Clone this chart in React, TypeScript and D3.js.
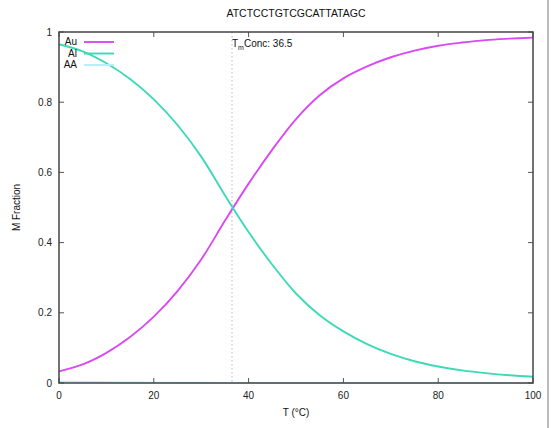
import React from "react";
import * as d3 from "d3";

const temps = [0, 5, 10, 15, 20, 25, 30, 35, 40, 45, 50, 55, 60, 65, 70, 75, 80, 85, 90, 95, 100];
const auValues = [0.033, 0.053, 0.086, 0.131, 0.189, 0.262, 0.352, 0.462, 0.568, 0.665, 0.752, 0.82, 0.868, 0.902, 0.928, 0.947, 0.961, 0.970, 0.977, 0.981, 0.984];
const alValues = [0.965, 0.945, 0.911, 0.866, 0.808, 0.735, 0.645, 0.535, 0.43, 0.337, 0.255, 0.193, 0.147, 0.111, 0.083, 0.062, 0.047, 0.036, 0.028, 0.022, 0.018];
const aaValues = [0.004, 0.003, 0.002, 0.0015, 0.001, 0.0008, 0.0006, 0.0004, 0.0003, 0.0002, 0.0001, 0, 0, 0, 0, 0, 0, 0, 0, 0, 0];
const xTicks = [0, 20, 40, 60, 80, 100];
const yTicks = [0, 0.2, 0.4, 0.6, 0.8, 1];
const seriesNames = ["Au", "Al", "AA"];
const seriesColors = ["#d94af2", "#3ed9b6", "#b4f0fa"];
const title = "ATCTCCTGTCGCATTATAGC";
const tm = 36.5;

export default function App() {
  const W = 555, H = 428;
  const left = 59, right = 533, top = 32, bottom = 383;
  const x = d3.scaleLinear().domain([0, 100]).range([left, right]);
  const y = d3.scaleLinear().domain([0, 1]).range([bottom, top]);
  const line = d3.line<number>().x((_, i) => x(temps[i])).y((d) => y(d)).curve(d3.curveCatmullRom.alpha(0.5));
  const series = [auValues, alValues, aaValues];
  const font = "'Liberation Sans', Arial, sans-serif";
  const tickLen = 5;
  return (
    <svg width={W} height={H} style={{ position: "absolute", left: 0, top: 0, background: "#fff" }} fontFamily={font}>
      <rect x={0} y={0} width={W} height={H} fill="#fff" />
      <text x={296} y={17} fontSize={10.5} textAnchor="middle" fill="#111">{title}</text>
      <line x1={x(tm)} x2={x(tm)} y1={top} y2={bottom} stroke="#bbb" strokeWidth={1} strokeDasharray="1.5,2.5" />
      {series.map((vals, k) => (
        <path key={k} d={line(vals) || ""} fill="none" stroke={seriesColors[k]} strokeWidth={1.9} />
      ))}
      {xTicks.map((t) => (
        <g key={"x" + t}>
          <line x1={x(t)} x2={x(t)} y1={bottom} y2={bottom - tickLen} stroke="#555" />
          <line x1={x(t)} x2={x(t)} y1={top} y2={top + tickLen} stroke="#555" />
          <text x={x(t)} y={399} fontSize={10} textAnchor="middle" fill="#222">{t}</text>
        </g>
      ))}
      {yTicks.map((t) => (
        <g key={"y" + t}>
          <line x1={left} x2={left + tickLen} y1={y(t)} y2={y(t)} stroke="#555" />
          <line x1={right} x2={right - tickLen} y1={y(t)} y2={y(t)} stroke="#555" />
          <text x={52} y={y(t) + 3.5} fontSize={10} textAnchor="end" fill="#222">{String(t)}</text>
        </g>
      ))}
      <rect x={left} y={top} width={right - left} height={bottom - top} fill="none" stroke="#444" strokeWidth={1.5} />
      {seriesNames.map((n, k) => (
        <g key={n}>
          <text x={77} y={45 + k * 11.5} fontSize={10} textAnchor="end" fill="#111">{n}</text>
          <line x1={84} x2={114} y1={42 + k * 11.5} y2={42 + k * 11.5} stroke={seriesColors[k]} strokeWidth={1.9} />
        </g>
      ))}
      <text x={232} y={47} fontSize={10} fill="#111">
        T<tspan fontSize={7} dy={3}>m</tspan><tspan dy={-3}>Conc: {tm}</tspan>
      </text>
      <text x={296} y={416} fontSize={10} textAnchor="middle" fill="#111">T (°C)</text>
      <text transform={`translate(20,${(top + bottom) / 2}) rotate(-90)`} fontSize={10} textAnchor="middle" fill="#111">M Fraction</text>
      <line x1={548} x2={548} y1={0} y2={H} stroke="#777" strokeWidth={1} />
    </svg>
  );
}
